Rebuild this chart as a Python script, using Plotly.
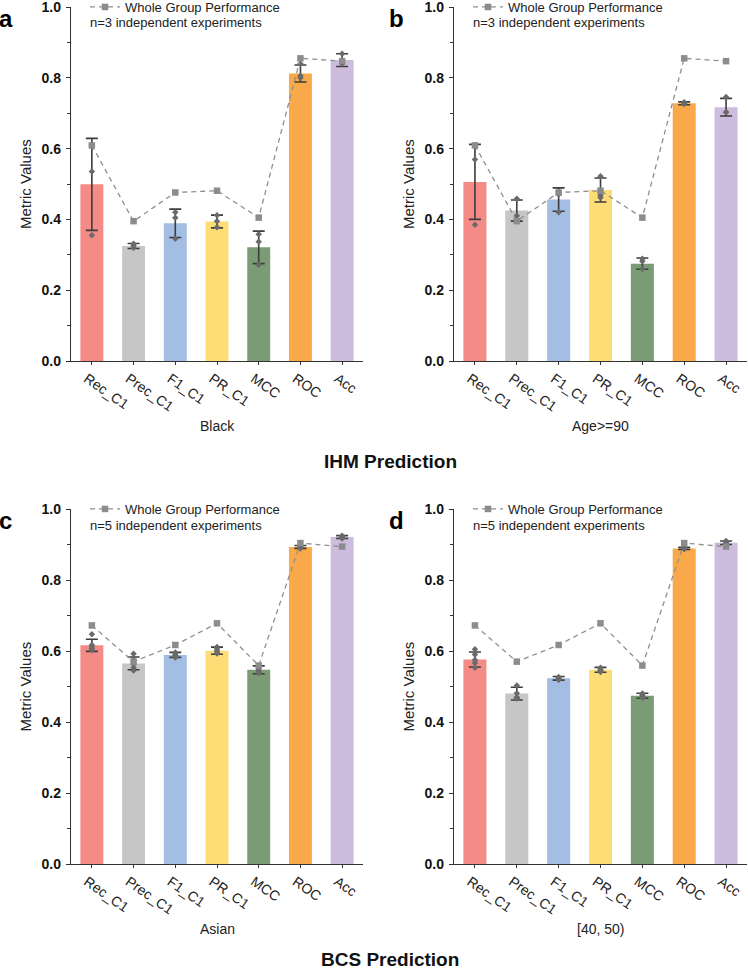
import plotly.graph_objects as go

# ---------------- data ----------------
metrics = ["Rec_C1", "Prec_C1", "F1_C1", "PR_C1", "MCC", "ROC", "Acc"]
bar_colors = ["#F48B86", "#C6C6C6", "#A3BDE3", "#FDDD75", "#7A9B73", "#F9A94A", "#CEBCDF"]

# Whole-group performance (dashed line)
wg_ihm = [0.609, 0.395, 0.476, 0.481, 0.405, 0.855, 0.847]
wg_bcs = [0.672, 0.570, 0.617, 0.678, 0.559, 0.904, 0.894]

# Panel a: IHM, Black (n=3)
a_mean = [0.499, 0.325, 0.389, 0.394, 0.321, 0.812, 0.850]
a_err = [0.130, 0.007, 0.040, 0.018, 0.046, 0.024, 0.018]
a_pts = [[0.610, 0.535, 0.355], [0.331, 0.326, 0.320], [0.420, 0.405, 0.345],
         [0.412, 0.395, 0.378], [0.358, 0.337, 0.272], [0.840, 0.806, 0.800],
         [0.868, 0.846, 0.840]]

# Panel b: IHM, Age>=90 (n=3)
b_mean = [0.506, 0.425, 0.456, 0.483, 0.275, 0.728, 0.717]
b_err = [0.106, 0.030, 0.033, 0.034, 0.016, 0.004, 0.025]
b_pts = [[0.610, 0.569, 0.385], [0.458, 0.410, 0.400], [0.478, 0.470, 0.420],
         [0.522, 0.468, 0.462], [0.289, 0.282, 0.260], [0.731, 0.728, 0.726],
         [0.746, 0.703, 0.703]]

# Panel c: BCS, Asian (n=5)
c_mean = [0.616, 0.565, 0.589, 0.601, 0.547, 0.893, 0.921]
c_err = [0.017, 0.018, 0.007, 0.010, 0.011, 0.004, 0.004]
c_pts = [[0.647, 0.617, 0.612, 0.606, 0.602], [0.592, 0.575, 0.563, 0.553, 0.545],
         [0.596, 0.592, 0.588, 0.585, 0.582], [0.611, 0.606, 0.601, 0.596, 0.593],
         [0.557, 0.551, 0.546, 0.541, 0.538], [0.898, 0.895, 0.893, 0.891, 0.889],
         [0.925, 0.923, 0.921, 0.919, 0.917]]

# Panel d: BCS, [40, 50) (n=5)
d_mean = [0.576, 0.480, 0.523, 0.547, 0.474, 0.889, 0.905]
d_err = [0.021, 0.018, 0.005, 0.007, 0.007, 0.003, 0.005]
d_pts = [[0.605, 0.590, 0.575, 0.566, 0.553], [0.503, 0.481, 0.470, 0.468, 0.466],
         [0.527, 0.524, 0.522, 0.520, 0.519], [0.553, 0.549, 0.546, 0.543, 0.541],
         [0.480, 0.476, 0.473, 0.470, 0.468], [0.892, 0.890, 0.889, 0.888, 0.887],
         [0.910, 0.907, 0.905, 0.903, 0.901]]

panel_letters = ["a", "b", "c", "d"]
group_names = ["Black", "Age>=90", "Asian", "[40, 50)"]
n_texts = ["n=3 independent experiments", "n=3 independent experiments",
           "n=5 independent experiments", "n=5 independent experiments"]
section_titles = ["IHM Prediction", "BCS Prediction"]
y_ticks = [0.0, 0.2, 0.4, 0.6, 0.8, 1.0]

# ---------------- layout geometry ----------------
W, H = 748, 973
FONT = "Arial, Liberation Sans, sans-serif"
px_x = lambda p: p / W
px_y = lambda p: 1 - p / H

x_doms = [(71, 363), (454, 747)]
y_doms = [(7, 361), (509, 864)]
section_title_y = [462, 959]

panels = [
    (a_mean, a_err, a_pts, wg_ihm),
    (b_mean, b_err, b_pts, wg_ihm),
    (c_mean, c_err, c_pts, wg_bcs),
    (d_mean, d_err, d_pts, wg_bcs),
]

fig = go.Figure()
annotations = []
legend_names = ["legend", "legend2", "legend3", "legend4"]

for i, (mean, err, pts, wg) in enumerate(panels):
    col, row = i % 2, i // 2
    sfx = "" if i == 0 else str(i + 1)
    xa, ya = "x" + sfx, "y" + sfx
    xd, yd = x_doms[col], y_doms[row]

    fig.add_trace(go.Bar(
        x=metrics, y=mean, marker=dict(color=bar_colors, line=dict(width=0)),
        width=0.55, showlegend=False, xaxis=xa, yaxis=ya,
        error_y=dict(type="data", array=err, color="#3c3c3c", thickness=1.6, width=6),
    ))
    px_list, py_list = [], []
    for m, vals in zip(metrics, pts):
        for v in vals:
            px_list.append(m)
            py_list.append(v)
    fig.add_trace(go.Scatter(
        x=px_list, y=py_list, mode="markers", showlegend=False, xaxis=xa, yaxis=ya,
        marker=dict(symbol="diamond", size=5, color="#6a6a6a"),
    ))
    fig.add_trace(go.Scatter(
        x=metrics, y=wg, mode="lines+markers", name="Whole Group Performance",
        xaxis=xa, yaxis=ya, legend=legend_names[i],
        line=dict(color="#8f8f8f", width=1.3, dash="5px,4px"),
        marker=dict(symbol="square", size=6.5, color="#8c8c8c"),
    ))

    axis_common = dict(showline=True, linecolor="#333333", linewidth=1.4, showgrid=False,
                       zeroline=False, ticks="outside", tickcolor="#333333", automargin=False)
    fig.update_layout(**{
        "xaxis" + sfx: dict(domain=[px_x(xd[0]), px_x(xd[1])], anchor=ya,
                            range=[-0.5, 6.5], tickangle=35, ticklen=3,
                            ticklabelshift=-5, ticklabeloverflow="allow",
                            tickfont=dict(family=FONT, size=14, color="#222222"),
                            **axis_common),
        "yaxis" + sfx: dict(domain=[px_y(yd[1]), px_y(yd[0])], anchor=xa,
                            range=[0, 1.0], tickvals=y_ticks, tickformat=".1f", ticklen=4,
                            ticklabelstandoff=2, ticklabeloverflow="allow",
                            tickfont=dict(family=FONT, size=14, color="#111111", weight="bold"),
                            minor=dict(dtick=0.1, ticklen=3, ticks="outside", tickcolor="#333333"),
                            **axis_common),
        legend_names[i]: dict(x=px_x(xd[0] + 14), y=px_y(yd[0]), xanchor="left", yanchor="middle",
                              bgcolor="rgba(0,0,0,0)", borderwidth=0,
                              font=dict(family=FONT, size=13, color="#222222")),
    })

    # n= text
    annotations.append(dict(text=n_texts[i], x=px_x(xd[0] + 17), y=px_y(yd[0] + 16),
                            xref="paper", yref="paper", xanchor="left", yanchor="middle",
                            showarrow=False, font=dict(family=FONT, size=13, color="#222222")))
    # panel letter
    annotations.append(dict(text="<b>" + panel_letters[i] + "</b>", x=px_x(xd[0] - 74 + (0 if col == 0 else 7)),
                            y=px_y(yd[0] + 11), xref="paper", yref="paper",
                            xanchor="left", yanchor="middle", showarrow=False,
                            font=dict(family=FONT, size=24, color="#000000")))
    # y title
    annotations.append(dict(text="Metric Values", x=px_x(xd[0] - 46), y=px_y((yd[0] + yd[1]) / 2),
                            xref="paper", yref="paper", xanchor="center", yanchor="middle",
                            textangle=-90, showarrow=False,
                            font=dict(family=FONT, size=15, color="#222222")))
    # x group title
    annotations.append(dict(text=group_names[i], x=px_x((xd[0] + xd[1]) / 2), y=px_y(yd[1] + 65),
                            xref="paper", yref="paper", xanchor="center", yanchor="middle",
                            showarrow=False, font=dict(family=FONT, size=14, color="#222222")))

for r, title in enumerate(section_titles):
    annotations.append(dict(text="<b>" + title + "</b>", x=px_x(390), y=px_y(section_title_y[r]),
                            xref="paper", yref="paper", xanchor="center", yanchor="middle",
                            showarrow=False, font=dict(family=FONT, size=19, color="#111111")))

fig.update_layout(width=W, height=H, margin=dict(l=0, r=0, t=0, b=0, autoexpand=False),
                  plot_bgcolor="white", paper_bgcolor="white", bargap=0.4,
                  annotations=annotations, font=dict(family=FONT))

fig.write_html("out.html", config={"displayModeBar": False},
               post_script="document.body.style.margin='0';document.body.style.padding='0';")
